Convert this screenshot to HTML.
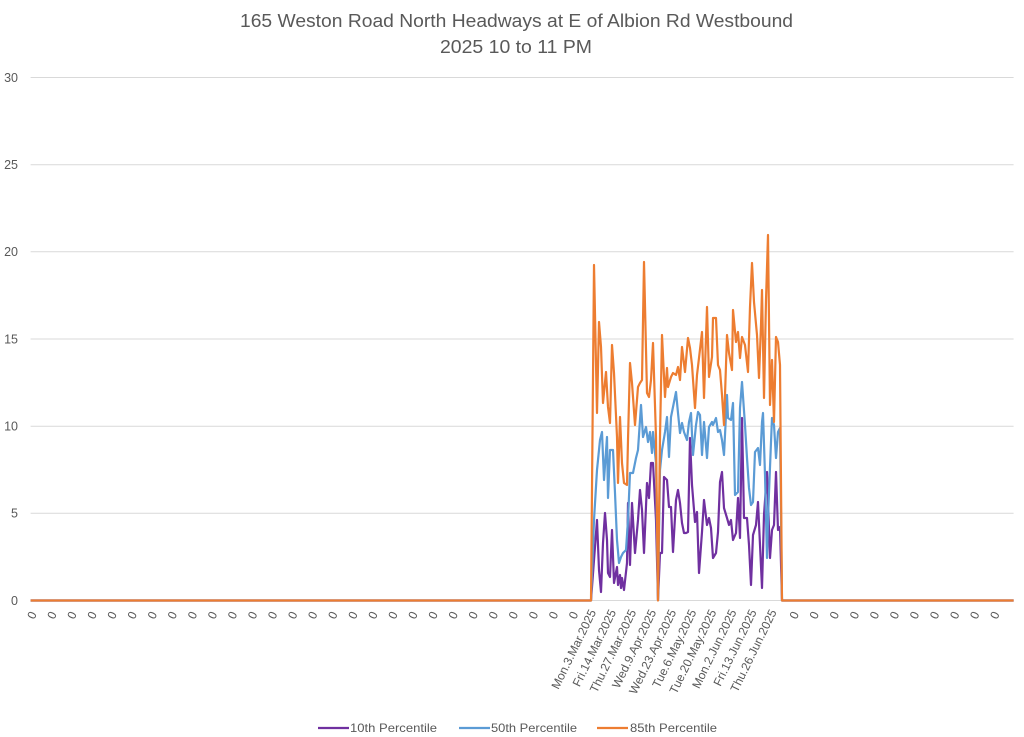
<!DOCTYPE html>
<html>
<head>
<meta charset="utf-8">
<style>
  html, body { margin: 0; padding: 0; background: #ffffff; }
  svg { display: block; }
  text { font-family: "Liberation Sans", "DejaVu Sans", sans-serif; fill: #595959; }
</style>
</head>
<body>
<svg width="1024" height="737" viewBox="0 0 1024 737" xmlns="http://www.w3.org/2000/svg">
  <rect x="0" y="0" width="1024" height="737" fill="#ffffff"/>

  <!-- Title -->
  <text x="516.5" y="27" font-size="18" text-anchor="middle" textLength="553" lengthAdjust="spacingAndGlyphs">165 Weston Road North Headways at E of Albion Rd Westbound</text>
  <text x="516" y="53" font-size="18" text-anchor="middle" textLength="152" lengthAdjust="spacingAndGlyphs">2025 10 to 11 PM</text>

  <!-- Gridlines -->
  <g stroke="#d9d9d9" stroke-width="1">
    <line x1="30.6" y1="77.5" x2="1013.6" y2="77.5"/>
    <line x1="30.6" y1="164.7" x2="1013.6" y2="164.7"/>
    <line x1="30.6" y1="251.8" x2="1013.6" y2="251.8"/>
    <line x1="30.6" y1="339" x2="1013.6" y2="339"/>
    <line x1="30.6" y1="426.2" x2="1013.6" y2="426.2"/>
    <line x1="30.6" y1="513.3" x2="1013.6" y2="513.3"/>
    <line x1="30.6" y1="600.5" x2="1013.6" y2="600.5"/>
  </g>

  <!-- Y axis labels -->
  <g font-size="12.5" text-anchor="end">
    <text x="18" y="82">30</text>
    <text x="18" y="169">25</text>
    <text x="18" y="256">20</text>
    <text x="18" y="343.5">15</text>
    <text x="18" y="430.5">10</text>
    <text x="18" y="517.5">5</text>
    <text x="18" y="605">0</text>
  </g>

  <!-- Series: 10th percentile (purple) -->
  <polyline fill="none" stroke="#7030A0" stroke-width="2.2" stroke-linejoin="round" points="
    30.6,600.5 591,600.5 594,560 597,520 599,570 601,592 603,543 605,513 607,540 608,573 610,577 612,530 614,583 617,567 618,585 620,575 621,588 622,578 624,590 627,563 628,503 630,565 632,503 635,553 638,520 640,490 642,510 644,553 647,483 649,498 651,463 653,463 656,520 658,600 660,553 662,553 664,477 667,480 669,507 671,507 673,552 676,500 678,490 680,503 682,523 684,533 686,533 688,532 690,438 692,485 695,522 697,512 699,573 702,532 704,500 707,525 709,518 711,528 713,558 716,553 718,532 720,482 722,472 724,508 727,518 729,525 731,520 733,540 736,533 738,498 740,538 742,418 744,518 747,518 749,545 751,585 753,535 756,525 758,502 760,545 762,588 764,515 767,472 770,558 772,530 774,525 776,472 778,530 780,527 782,600.5 1013.6,600.5"/>

  <!-- Series: 50th percentile (blue) -->
  <polyline fill="none" stroke="#5B9BD5" stroke-width="2.2" stroke-linejoin="round" points="
    30.6,600.5 591,600.5 594,520 597,470 600,440 602,432 604,480 607,437 608,498 610,450 613,450 615,493 617,540 619,563 621,557 623,553 626,550 628,520 630,473 633,473 636,458 638,450 641,405 643,437 646,427 648,442 650,432 652,453 653,432 656,463 658,600 660,470 662,450 665,432 667,417 669,457 671,417 673,407 676,392 678,413 680,433 682,423 684,432 687,440 689,422 691,413 693,455 696,425 698,412 700,415 702,455 704,422 707,458 709,427 712,422 713,425 716,418 718,432 720,430 722,440 724,455 727,395 728,418 731,420 733,403 735,495 738,492 740,408 742,382 745,425 747,458 749,488 751,505 753,502 755,452 758,448 760,465 762,422 763,413 765,475 767,558 768,518 771,442 772,418 774,425 776,458 778,432 780,428 782,600.5 1013.6,600.5"/>

  <!-- Series: 85th percentile (orange) -->
  <polyline fill="none" stroke="#ED7D31" stroke-width="2.2" stroke-linejoin="round" points="
    30.6,600.5 591,600.5 594,265 597,413 599,322 601,347 603,403 606,372 608,407 610,423 612,345 614,373 617,437 618,483 620,417 622,463 624,483 627,485 628,440 630,363 632,383 635,425 638,387 640,383 642,380 644,262 647,393 649,397 651,380 653,343 656,437 658,600.5 660,437 662,335 665,397 667,368 668,387 671,377 673,373 676,375 678,367 680,380 682,347 685,372 688,338 690,348 692,365 695,408 697,375 699,358 702,332 704,398 707,307 709,377 712,357 713,318 716,318 718,365 720,370 722,395 724,425 727,335 729,353 732,370 733,310 736,342 738,332 740,358 742,337 745,345 748,372 750,307 752,263 754,302 757,335 759,378 761,325 762,290 764,398 766,300 768,235 770,405 772,360 774,422 776,337 778,342 780,365 782,600.5 1013.6,600.5"/>

  <!-- X axis labels: zeros (left) -->
  <g font-size="12">
    <text transform="translate(37.0,614) rotate(-64)" text-anchor="end">0</text>
    <text transform="translate(57.1,614) rotate(-64)" text-anchor="end">0</text>
    <text transform="translate(77.1,614) rotate(-64)" text-anchor="end">0</text>
    <text transform="translate(97.2,614) rotate(-64)" text-anchor="end">0</text>
    <text transform="translate(117.2,614) rotate(-64)" text-anchor="end">0</text>
    <text transform="translate(137.3,614) rotate(-64)" text-anchor="end">0</text>
    <text transform="translate(157.4,614) rotate(-64)" text-anchor="end">0</text>
    <text transform="translate(177.4,614) rotate(-64)" text-anchor="end">0</text>
    <text transform="translate(197.5,614) rotate(-64)" text-anchor="end">0</text>
    <text transform="translate(217.5,614) rotate(-64)" text-anchor="end">0</text>
    <text transform="translate(237.6,614) rotate(-64)" text-anchor="end">0</text>
    <text transform="translate(257.7,614) rotate(-64)" text-anchor="end">0</text>
    <text transform="translate(277.7,614) rotate(-64)" text-anchor="end">0</text>
    <text transform="translate(297.8,614) rotate(-64)" text-anchor="end">0</text>
    <text transform="translate(317.8,614) rotate(-64)" text-anchor="end">0</text>
    <text transform="translate(337.9,614) rotate(-64)" text-anchor="end">0</text>
    <text transform="translate(358.0,614) rotate(-64)" text-anchor="end">0</text>
    <text transform="translate(378.0,614) rotate(-64)" text-anchor="end">0</text>
    <text transform="translate(398.1,614) rotate(-64)" text-anchor="end">0</text>
    <text transform="translate(418.1,614) rotate(-64)" text-anchor="end">0</text>
    <text transform="translate(438.2,614) rotate(-64)" text-anchor="end">0</text>
    <text transform="translate(458.3,614) rotate(-64)" text-anchor="end">0</text>
    <text transform="translate(478.3,614) rotate(-64)" text-anchor="end">0</text>
    <text transform="translate(498.4,614) rotate(-64)" text-anchor="end">0</text>
    <text transform="translate(518.4,614) rotate(-64)" text-anchor="end">0</text>
    <text transform="translate(538.5,614) rotate(-64)" text-anchor="end">0</text>
    <text transform="translate(558.6,614) rotate(-64)" text-anchor="end">0</text>
    <text transform="translate(578.6,614) rotate(-64)" text-anchor="end">0</text>

    <!-- dates -->
    <text transform="translate(596.4,612) rotate(-64)" text-anchor="end">Mon.3.Mar.2025</text>
    <text transform="translate(616.4,612) rotate(-64)" text-anchor="end">Fri.14.Mar.2025</text>
    <text transform="translate(636.5,612) rotate(-64)" text-anchor="end">Thu.27.Mar.2025</text>
    <text transform="translate(656.6,612) rotate(-64)" text-anchor="end">Wed.9.Apr.2025</text>
    <text transform="translate(676.6,612) rotate(-64)" text-anchor="end">Wed.23.Apr.2025</text>
    <text transform="translate(696.7,612) rotate(-64)" text-anchor="end">Tue.6.May.2025</text>
    <text transform="translate(716.7,612) rotate(-64)" text-anchor="end">Tue.20.May.2025</text>
    <text transform="translate(736.8,612) rotate(-64)" text-anchor="end">Mon.2.Jun.2025</text>
    <text transform="translate(756.9,612) rotate(-64)" text-anchor="end">Fri.13.Jun.2025</text>
    <text transform="translate(776.9,612) rotate(-64)" text-anchor="end">Thu.26.Jun.2025</text>

    <!-- zeros (right) -->
    <text transform="translate(799.3,614) rotate(-64)" text-anchor="end">0</text>
    <text transform="translate(819.3,614) rotate(-64)" text-anchor="end">0</text>
    <text transform="translate(839.4,614) rotate(-64)" text-anchor="end">0</text>
    <text transform="translate(859.5,614) rotate(-64)" text-anchor="end">0</text>
    <text transform="translate(879.5,614) rotate(-64)" text-anchor="end">0</text>
    <text transform="translate(899.6,614) rotate(-64)" text-anchor="end">0</text>
    <text transform="translate(919.6,614) rotate(-64)" text-anchor="end">0</text>
    <text transform="translate(939.7,614) rotate(-64)" text-anchor="end">0</text>
    <text transform="translate(959.8,614) rotate(-64)" text-anchor="end">0</text>
    <text transform="translate(979.8,614) rotate(-64)" text-anchor="end">0</text>
    <text transform="translate(999.9,614) rotate(-64)" text-anchor="end">0</text>
  </g>

  <!-- Legend -->
  <g stroke-width="2.2">
    <line x1="318" y1="728" x2="349" y2="728" stroke="#7030A0"/>
    <line x1="459" y1="728" x2="490" y2="728" stroke="#5B9BD5"/>
    <line x1="597" y1="728" x2="628" y2="728" stroke="#ED7D31"/>
  </g>
  <g font-size="12">
    <text x="350" y="732" textLength="87" lengthAdjust="spacingAndGlyphs">10th Percentile</text>
    <text x="491" y="732" textLength="86" lengthAdjust="spacingAndGlyphs">50th Percentile</text>
    <text x="630" y="732" textLength="87" lengthAdjust="spacingAndGlyphs">85th Percentile</text>
  </g>
</svg>
</body>
</html>
